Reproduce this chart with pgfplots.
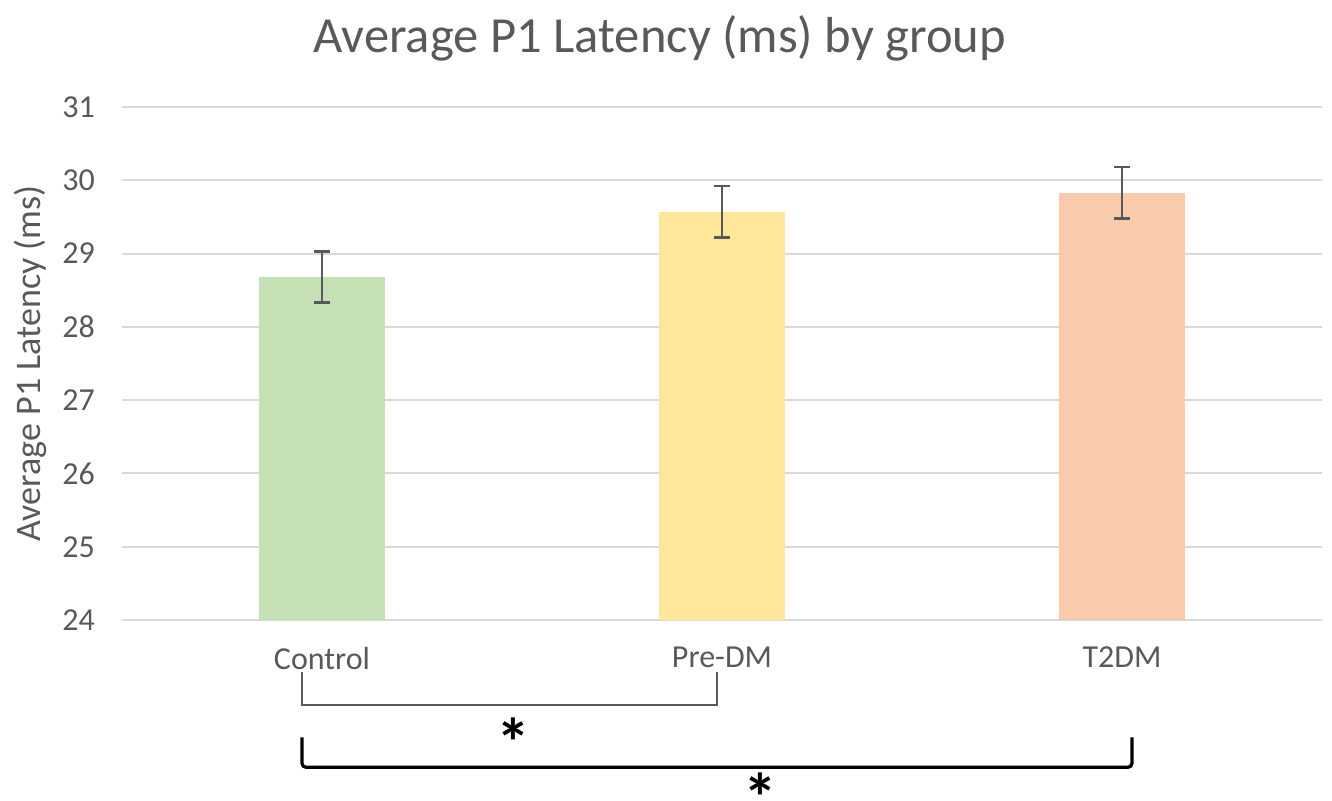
\documentclass[border=0pt]{standalone}
\usepackage{pgfplots}
\pgfplotsset{compat=1.18}
\usepackage{fontspec}
\setmainfont{Carlito}
\definecolor{cgreen}{HTML}{C5E0B4}
\definecolor{cyellow}{HTML}{FFE699}
\definecolor{corange}{HTML}{F8CBAD}
\definecolor{gridc}{HTML}{D9D9D9}
\definecolor{txt}{HTML}{595959}
\begin{document}
\begin{tikzpicture}
\path[use as bounding box] (-61pt,-90pt) rectangle (605pt,310pt);
\begin{axis}[
  at={(0,0)}, anchor=south west,
  scale only axis, width=600pt, height=256.5pt,
  xmin=-0.5, xmax=2.5, ymin=24, ymax=31,
  ytick={24,25,26,27,28,29,30,31},
  xtick={0,1,2}, xticklabels={Control,Pre-DM,T2DM},
  major tick length=0pt,
  axis line style={draw=none},
  ymajorgrids, grid style={gridc, line width=1pt},
  tick label style={font=\fontsize{16}{18}\selectfont, text=txt},
  /pgf/number format/assume math mode=true,
  xticklabel style={yshift=-10pt},
  yticklabel style={xshift=-10pt},
  ylabel={Average P1 Latency (ms)},
  every axis y label/.style={at={(axis description cs:-0.0767,0.5)}, rotate=90, anchor=center, font=\fontsize{18}{20}\selectfont, text=txt},
  title={Average P1 Latency (ms) by group},
  every axis title/.style={at={(axis description cs:0.448,1)}, anchor=center, yshift=34.5pt, font=\fontsize{25.3}{30}\selectfont, text=txt},
  ybar, bar width=63pt, bar shift=0pt,
  clip=false,
  error bars/error bar style={txt, line width=1.2pt},
  error bars/error mark options={txt, rotate=90, mark size=4pt, line width=1.2pt},
]
\addplot[fill=cgreen, draw=none, error bars/.cd, y dir=both, y explicit]
  coordinates {(0,28.68) +- (0,0.35)};
\addplot[fill=cyellow, draw=none, error bars/.cd, y dir=both, y explicit]
  coordinates {(1,29.57) +- (0,0.35)};
\addplot[fill=corange, draw=none, error bars/.cd, y dir=both, y explicit]
  coordinates {(2,29.83) +- (0,0.35)};
\draw[txt, line width=0.8pt] (axis cs:-0.05,23.29) -- (axis cs:-0.05,22.84) -- (axis cs:0.9875,22.84) -- (axis cs:0.9875,23.29);
\draw[black, line width=1.6pt, rounded corners=2pt] (axis cs:-0.05,22.40) -- (axis cs:-0.05,21.99) -- (axis cs:2.025,21.99) -- (axis cs:2.025,22.40);
\node[font=\fontsize{34}{34}\selectfont\bfseries, anchor=center, inner sep=0pt, yshift=-7pt] at (axis cs:0.4775,22.53) {*};
\node[font=\fontsize{34}{34}\selectfont\bfseries, anchor=center, inner sep=0pt, yshift=-4.5pt] at (axis cs:1.095,21.71) {*};
\end{axis}
\end{tikzpicture}
\end{document}
